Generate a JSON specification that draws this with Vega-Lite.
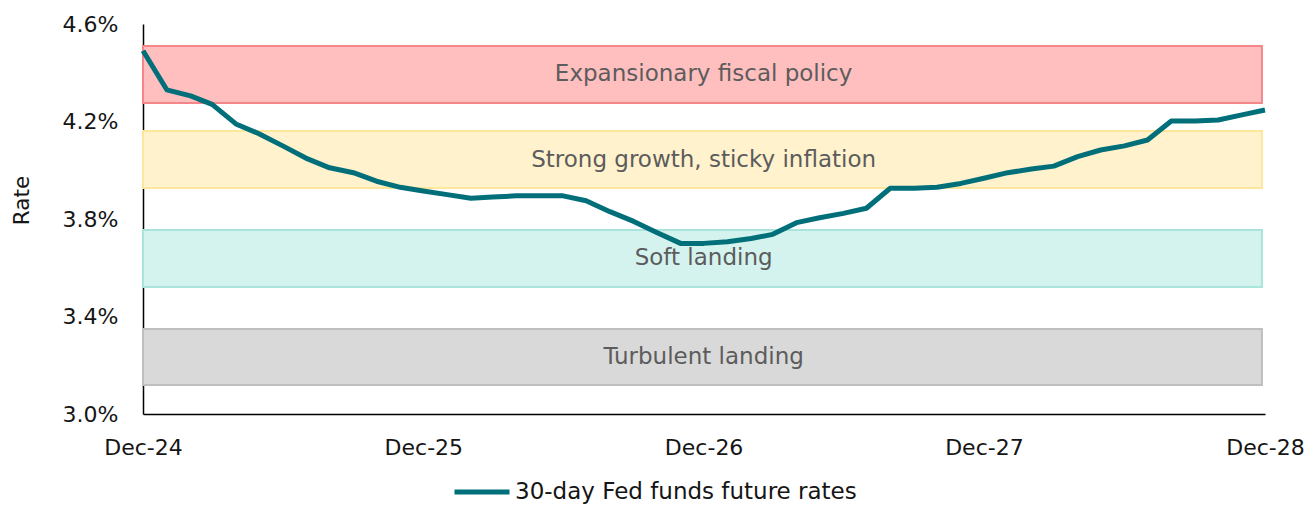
{
  "$schema": "https://vega.github.io/schema/vega-lite/v6.json",
  "width": 1122,
  "height": 390,
  "autosize": {"type": "none"},
  "padding": {"left": 143, "top": 24, "right": 43, "bottom": 93},
  "config": {
    "font": "DejaVu Sans",
    "view": {"stroke": null},
    "axis": {"labelFont": "DejaVu Sans", "titleFont": "DejaVu Sans", "labelColor": "#151515", "titleColor": "#151515", "labelFontSize": 22, "titleFontSize": 21.5, "labelFontWeight": "normal", "titleFontWeight": "normal", "domainColor": "#000000", "domainWidth": 1.5, "ticks": false, "grid": false},
    "legend": {"labelFont": "DejaVu Sans", "labelFontSize": 23, "labelColor": "#151515", "labelLimit": 600}
  },
  "datasets": {
    "bands": [
      {"scenario": "Expansionary fiscal policy", "lo": 4.276, "hi": 4.51, "start": "2024-12-01", "end": "2028-11-27"},
      {"scenario": "Strong growth, sticky inflation", "lo": 3.927, "hi": 4.161, "start": "2024-12-01", "end": "2028-11-27"},
      {"scenario": "Soft landing", "lo": 3.521, "hi": 3.755, "start": "2024-12-01", "end": "2028-11-27"},
      {"scenario": "Turbulent landing", "lo": 3.119, "hi": 3.349, "start": "2024-12-01", "end": "2028-11-27"}
    ],
    "rates": [
      {"date": "2024-12-01", "rate": 4.49},
      {"date": "2025-01-01", "rate": 4.33},
      {"date": "2025-02-01", "rate": 4.305},
      {"date": "2025-03-01", "rate": 4.27},
      {"date": "2025-04-01", "rate": 4.19},
      {"date": "2025-05-01", "rate": 4.15},
      {"date": "2025-06-01", "rate": 4.10},
      {"date": "2025-07-01", "rate": 4.05},
      {"date": "2025-08-01", "rate": 4.01},
      {"date": "2025-09-01", "rate": 3.99},
      {"date": "2025-10-01", "rate": 3.955},
      {"date": "2025-11-01", "rate": 3.93},
      {"date": "2025-12-01", "rate": 3.915},
      {"date": "2026-01-01", "rate": 3.90},
      {"date": "2026-02-01", "rate": 3.885},
      {"date": "2026-03-01", "rate": 3.89},
      {"date": "2026-04-01", "rate": 3.895},
      {"date": "2026-05-01", "rate": 3.895},
      {"date": "2026-06-01", "rate": 3.895},
      {"date": "2026-07-01", "rate": 3.875},
      {"date": "2026-08-01", "rate": 3.83},
      {"date": "2026-09-01", "rate": 3.79},
      {"date": "2026-10-01", "rate": 3.745},
      {"date": "2026-11-01", "rate": 3.70},
      {"date": "2026-12-01", "rate": 3.70},
      {"date": "2027-01-01", "rate": 3.707},
      {"date": "2027-02-01", "rate": 3.72},
      {"date": "2027-03-01", "rate": 3.737},
      {"date": "2027-04-01", "rate": 3.785},
      {"date": "2027-05-01", "rate": 3.805},
      {"date": "2027-06-01", "rate": 3.823},
      {"date": "2027-07-01", "rate": 3.844},
      {"date": "2027-08-01", "rate": 3.926},
      {"date": "2027-09-01", "rate": 3.926},
      {"date": "2027-10-01", "rate": 3.93},
      {"date": "2027-11-01", "rate": 3.946},
      {"date": "2027-12-01", "rate": 3.967},
      {"date": "2028-01-01", "rate": 3.99},
      {"date": "2028-02-01", "rate": 4.005},
      {"date": "2028-03-01", "rate": 4.017},
      {"date": "2028-04-01", "rate": 4.056},
      {"date": "2028-05-01", "rate": 4.083},
      {"date": "2028-06-01", "rate": 4.10},
      {"date": "2028-07-01", "rate": 4.124},
      {"date": "2028-08-01", "rate": 4.202},
      {"date": "2028-09-01", "rate": 4.202},
      {"date": "2028-10-01", "rate": 4.206},
      {"date": "2028-11-01", "rate": 4.227},
      {"date": "2028-12-01", "rate": 4.247}
    ]
  },
  "layer": [
    {
      "data": {"name": "bands"},
      "mark": {"type": "rect", "strokeWidth": 2},
      "encoding": {
        "x": {"field": "start", "type": "temporal", "scale": {"type": "utc", "domain": [{"year": 2024, "month": 12, "date": 1, "utc": true}, {"year": 2028, "month": 12, "date": 1, "utc": true}]}, "axis": {"title": null, "format": "%b-%y", "labelPadding": 23, "labelAlign": "center", "labelFlush": false, "labelOverlap": false, "labelFontWeight": "normal", "values": [{"year": 2024, "month": 12, "date": 1, "utc": true}, {"year": 2025, "month": 12, "date": 1, "utc": true}, {"year": 2026, "month": 12, "date": 1, "utc": true}, {"year": 2027, "month": 12, "date": 1, "utc": true}, {"year": 2028, "month": 12, "date": 1, "utc": true}]}},
        "x2": {"field": "end"},
        "y": {"field": "lo", "type": "quantitative", "scale": {"domain": [3.0, 4.6], "nice": false, "zero": false}, "axis": {"title": "Rate", "values": [3.0, 3.4, 3.8, 4.2, 4.6], "labelExpr": "format(datum.value, '.1f') + '%'", "labelPadding": 25, "titleX": -121, "titleY": 176, "titleAngle": -90, "titleAlign": "center", "titleBaseline": "middle"}},
        "y2": {"field": "hi"},
        "fill": {"field": "scenario", "type": "nominal", "scale": {"domain": ["Expansionary fiscal policy", "Strong growth, sticky inflation", "Soft landing", "Turbulent landing"], "range": ["#ffbfbf", "#fff2cc", "#d4f3ee", "#d9d9d9"]}, "legend": null},
        "stroke": {"field": "scenario", "type": "nominal", "scale": {"domain": ["Expansionary fiscal policy", "Strong growth, sticky inflation", "Soft landing", "Turbulent landing"], "range": ["#f4868a", "#fde79a", "#a9e5da", "#bfbfbf"]}, "legend": null}
      }
    },
    {
      "data": {"name": "bands"},
      "transform": [{"calculate": "(datum.lo + datum.hi) / 2", "as": "mid"}],
      "mark": {"type": "text", "fontSize": 23, "color": "#5c5c5c", "align": "center", "baseline": "middle"},
      "encoding": {
        "x": {"datum": {"year": 2026, "month": 12, "date": 1, "utc": true}, "type": "temporal"},
        "y": {"field": "mid", "type": "quantitative"},
        "text": {"field": "scenario"}
      }
    },
    {
      "data": {"name": "rates"},
      "transform": [{"calculate": "'30-day Fed funds future rates'", "as": "series"}],
      "mark": {"type": "line", "strokeWidth": 5, "strokeJoin": "round"},
      "encoding": {
        "x": {"field": "date", "type": "temporal"},
        "y": {"field": "rate", "type": "quantitative"},
        "color": {"field": "series", "type": "nominal", "scale": {"range": ["#006f7a"]}, "legend": {"title": null, "orient": "none", "legendX": 309, "legendY": 438, "symbolType": "stroke", "symbolSize": 3025, "symbolStrokeWidth": 5, "labelOffset": 3}}
      }
    }
  ]
}
